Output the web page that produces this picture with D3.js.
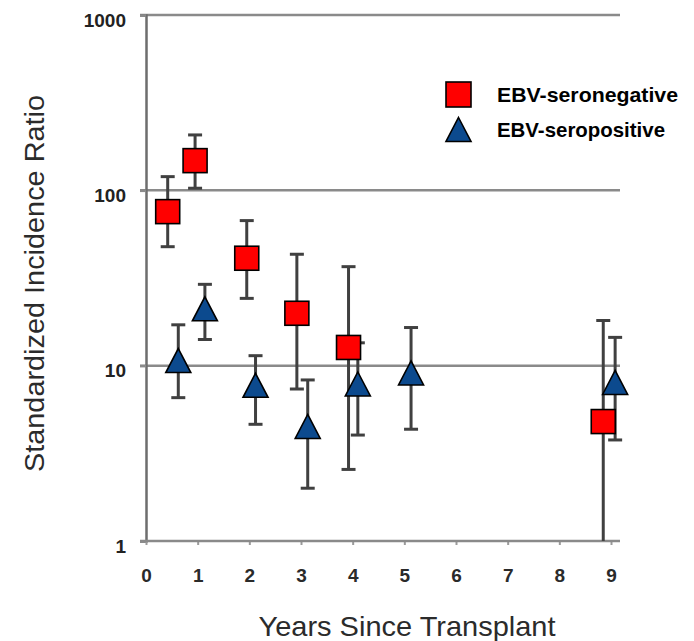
<!DOCTYPE html>
<html>
<head>
<meta charset="utf-8">
<script src="https://cdn.jsdelivr.net/npm/d3@7/dist/d3.min.js"></script>
<style>
  html, body { margin: 0; padding: 0; background: #fff; }
  svg { display: block; font-family: "Liberation Sans", Arial, sans-serif; }
</style>
</head>
<body>
<svg id="chart" width="694" height="641"></svg>
<script>
// Standardized incidence ratio by years since transplant, with 95% CI
const negYears = [0.42, 0.95, 1.95, 2.92, 3.92, 8.85];
const negSIR   = [75.6, 147.7, 41.0, 19.9, 12.7, 4.8];
const negLow   = [47.7, 102.8, 24.2, 7.36, 2.56, 1.0];
const negHigh  = [119.7, 207, 67.2, 43.2, 36.7, 18.1];

const posYears = [0.625, 1.14, 2.12, 3.13, 4.10, 5.13, 9.08];
const posSIR   = [10.7, 21.1, 7.73, 4.5, 7.86, 9.09, 8.02];
const posLow   = [6.57, 14.1, 4.63, 2.0, 4.02, 4.34, 3.77];
const posHigh  = [17.1, 29.1, 11.4, 8.29, 13.5, 16.5, 14.5];

const xTicks = [0, 1, 2, 3, 4, 5, 6, 7, 8, 9];
const yTicks = [1, 10, 100, 1000];
const seriesNames = ["EBV-seronegative", "EBV-seropositive"];

const svg = d3.select("#chart");

const x = d3.scaleLinear().domain([0, 9]).range([146, 611]);
const y = d3.scaleLog().domain([1, 1000]).range([541, 15]);
const plotLeft = 146, plotRight = 620;

const gridColor = "#8a8a8a";
const barColor = "#404040";

// horizontal gridlines at 10, 100, 1000
svg.append("g").selectAll("line")
  .data(yTicks.filter(d => d > 1))
  .join("line")
  .attr("x1", plotLeft - 6).attr("x2", plotRight)
  .attr("y1", d => y(d)).attr("y2", d => y(d))
  .attr("stroke", gridColor).attr("stroke-width", 2.5);

// y axis
const yAxis = d3.axisLeft(y).tickValues(yTicks).tickFormat(d3.format("d")).tickSize(6).tickPadding(0);
const gy = svg.append("g").attr("transform", `translate(${plotLeft},0)`).call(yAxis);
gy.select(".domain").attr("stroke", "#6e6e6e").attr("stroke-width", 2.5);
gy.selectAll(".tick line").attr("stroke", gridColor).attr("stroke-width", 2.5);
gy.selectAll(".tick text")
  .attr("x", -20).attr("dy", null).attr("y", 11)
  .attr("font-size", 19).attr("font-weight", "bold").attr("fill", "#222")
  .attr("font-family", "Liberation Sans, Arial, sans-serif");

// x axis along SIR = 1
const xAxis = d3.axisBottom(x).tickValues(xTicks).tickFormat(d3.format("d")).tickSize(4).tickPadding(0);
const gx = svg.append("g").attr("transform", `translate(0,${y(1)})`).call(xAxis);
gx.select(".domain").remove();
gx.append("line").attr("x1", plotLeft - 6).attr("x2", plotRight)
  .attr("stroke", gridColor).attr("stroke-width", 2.5);
gx.selectAll(".tick line").attr("stroke", "#9a9a9a").attr("stroke-width", 2);
gx.selectAll(".tick text")
  .attr("dy", null).attr("y", 41)
  .attr("font-size", 19).attr("font-weight", "bold").attr("fill", "#2a2a2a")
  .attr("font-family", "Liberation Sans, Arial, sans-serif");

// error bars
function errorBars(xs, lo, hi) {
  const g = svg.append("g").attr("stroke", barColor).attr("stroke-width", 3).attr("fill", "none");
  const rows = xs.map((d, i) => ({ x: d, lo: lo[i], hi: hi[i] }));
  g.selectAll("line.v").data(rows).join("line").attr("class", "v")
    .attr("x1", d => x(d.x)).attr("x2", d => x(d.x))
    .attr("y1", d => y(d.lo)).attr("y2", d => y(d.hi));
  g.selectAll("line.hi").data(rows).join("line").attr("class", "hi")
    .attr("x1", d => x(d.x) - 7).attr("x2", d => x(d.x) + 7)
    .attr("y1", d => y(d.hi)).attr("y2", d => y(d.hi));
  g.selectAll("line.lo").data(rows.filter(d => d.lo > 1)).join("line").attr("class", "lo")
    .attr("x1", d => x(d.x) - 7).attr("x2", d => x(d.x) + 7)
    .attr("y1", d => y(d.lo)).attr("y2", d => y(d.lo));
}
errorBars(negYears, negLow, negHigh);
errorBars(posYears, posLow, posHigh);

const red = "#ff0000";
const blue = "#0c4a8e";
const sq = 24;
const triPath = (cx, cy) => {
  const w = 25, h = 24;
  return `M${cx},${cy - h / 2}L${cx + w / 2},${cy + h / 2}L${cx - w / 2},${cy + h / 2}Z`;
};

// seronegative squares
svg.append("g").selectAll("rect")
  .data(negYears.map((d, i) => ({ x: d, v: negSIR[i] })))
  .join("rect")
  .attr("x", d => x(d.x) - sq / 2).attr("y", d => y(d.v) - sq / 2)
  .attr("width", sq).attr("height", sq)
  .attr("fill", red).attr("stroke", "#000").attr("stroke-width", 1.6);

// seropositive triangles
svg.append("g").selectAll("path")
  .data(posYears.map((d, i) => ({ x: d, v: posSIR[i] })))
  .join("path")
  .attr("d", d => triPath(x(d.x), y(d.v)))
  .attr("fill", blue).attr("stroke", "#000").attr("stroke-width", 1.6)
  .attr("stroke-linejoin", "miter");

// legend
const legend = svg.append("g");
legend.append("rect").attr("x", 446).attr("y", 82).attr("width", 25).attr("height", 25)
  .attr("fill", red).attr("stroke", "#000").attr("stroke-width", 1.6);
legend.append("path").attr("d", triPath(458.5, 129.5))
  .attr("fill", blue).attr("stroke", "#000").attr("stroke-width", 1.6);
legend.selectAll("text").data(seriesNames).join("text")
  .attr("x", 497).attr("y", (d, i) => i === 0 ? 102 : 137)
  .attr("font-size", 21).attr("font-weight", "bold").attr("fill", "#000")
  .attr("textLength", (d, i) => i === 0 ? 181 : 168)
  .attr("lengthAdjust", "spacingAndGlyphs")
  .text(d => d);

// axis titles
svg.append("text")
  .attr("x", 407).attr("y", 636)
  .attr("text-anchor", "middle")
  .attr("font-size", 28).attr("fill", "#2b2b2b")
  .attr("textLength", 297).attr("lengthAdjust", "spacingAndGlyphs")
  .text("Years Since Transplant");

svg.append("text")
  .attr("transform", "translate(44,283.5) rotate(-90)")
  .attr("text-anchor", "middle")
  .attr("font-size", 27).attr("fill", "#2b2b2b")
  .attr("textLength", 377).attr("lengthAdjust", "spacingAndGlyphs")
  .text("Standardized Incidence Ratio");
</script>
</body>
</html>
